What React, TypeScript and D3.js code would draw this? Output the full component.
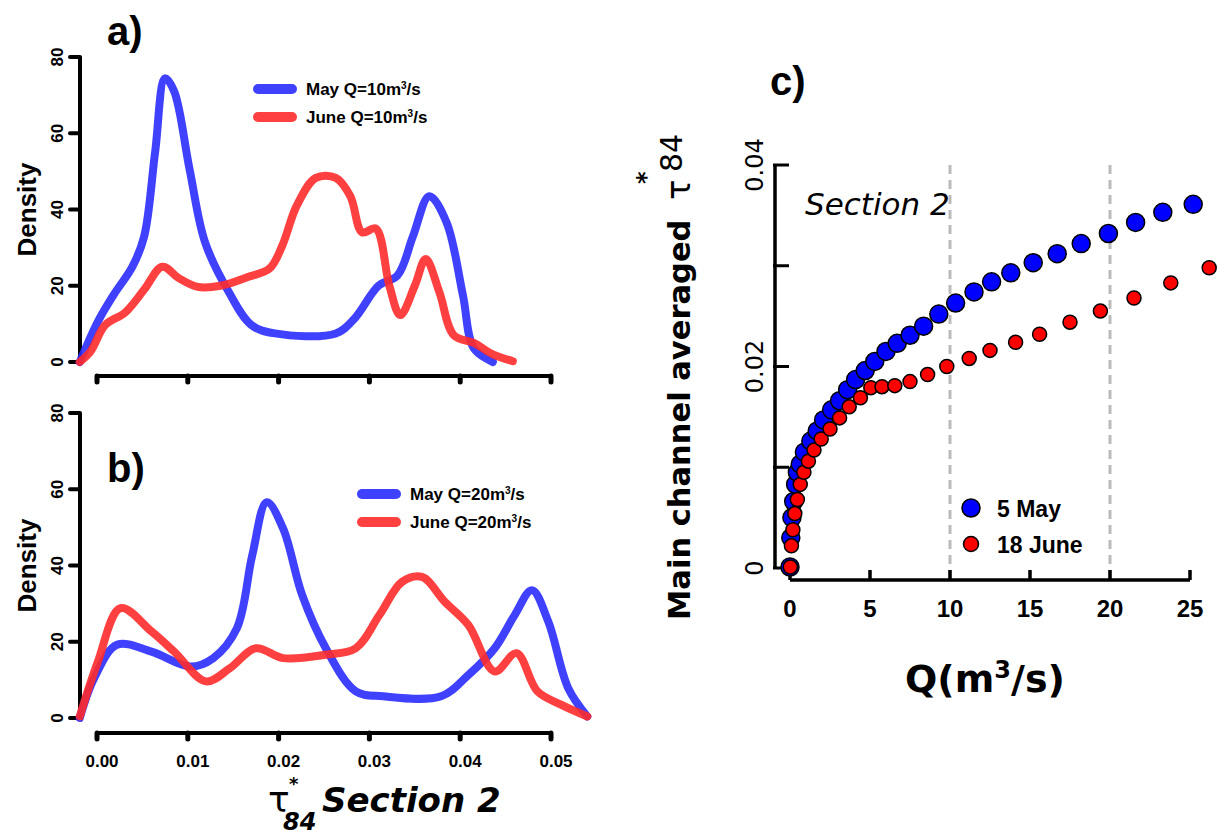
import React from 'react';
import * as d3 from 'd3';

// panel a, Q=10 m3/s: [tau84, density]
const mayA: [number, number][] = [
  [-0.0019, 0], [0.0001, 10.6], [0.0018, 17.5], [0.0039, 25], [0.0052, 33], [0.0064, 55], [0.0075, 74.4],
  [0.0085, 71], [0.0102, 50.5], [0.0119, 31.4], [0.0145, 18.4], [0.017, 9.7], [0.0196, 7.5], [0.0263, 7.5],
  [0.0284, 11.5], [0.031, 20], [0.0331, 22.7], [0.0348, 33], [0.0366, 43.5], [0.0385, 36.6], [0.0403, 17.5],
  [0.0415, 3.6], [0.0436, 0],
];
const juneA: [number, number][] = [
  [-0.0019, 0], [-0.0007, 2.8], [0.0009, 9.7], [0.0031, 13], [0.0052, 19], [0.0072, 25], [0.009, 22],
  [0.0111, 19.7], [0.0136, 20], [0.0166, 22.3], [0.019, 24.5], [0.0204, 30.5], [0.022, 41], [0.0241, 48.3],
  [0.0263, 48.3], [0.0279, 43.5], [0.0292, 34], [0.0307, 35], [0.0322, 20], [0.0334, 12.3], [0.035, 20],
  [0.0362, 27], [0.0377, 18.4], [0.0393, 7], [0.0415, 5], [0.0436, 2], [0.0458, 0.2],
];
// panel b, Q=20 m3/s
const mayB: [number, number][] = [
  [-0.0019, 0], [-0.0003, 10.5], [0.0022, 19.2], [0.006, 17.4], [0.0103, 13.5], [0.0128, 15.7], [0.0154, 23.5],
  [0.0171, 42.7], [0.0187, 56.6], [0.0205, 49.7], [0.0226, 32.2], [0.0252, 18.3], [0.0285, 7], [0.0315, 5.7],
  [0.0379, 5.7], [0.0409, 11.3], [0.0438, 18.3], [0.046, 27], [0.0479, 33.5], [0.0497, 25.3], [0.0519, 7.8],
  [0.054, 0.4],
];
const juneB: [number, number][] = [
  [-0.0019, 0.4], [0.0001, 14.8], [0.0026, 28.8], [0.006, 22.7], [0.0085, 17.4], [0.012, 9.6], [0.0146, 13],
  [0.0175, 18.3], [0.0205, 15.7], [0.0252, 16.6], [0.0285, 18.3], [0.0311, 27], [0.0336, 35.7], [0.0358, 37],
  [0.0383, 30.5], [0.0409, 24.4], [0.0438, 12.2], [0.0462, 17], [0.0485, 7], [0.0511, 3.5], [0.054, 0.4],
];
// panel c: [Q, tau84]
const may5: [number, number][] = [
  [0, 0.0001], [0.05, 0.003], [0.12, 0.005], [0.23, 0.0066], [0.35, 0.0083], [0.46, 0.0095], [0.64, 0.0103],
  [0.9, 0.0115], [1.3, 0.0126], [1.7, 0.0136], [2.1, 0.0147], [2.6, 0.0157], [3.1, 0.0166], [3.6, 0.0177],
  [4.1, 0.0187], [4.7, 0.0196], [5.3, 0.0205], [6.0, 0.0215], [6.7, 0.0223], [7.5, 0.0231], [8.35, 0.024],
  [9.3, 0.0252], [10.35, 0.0263], [11.5, 0.0274], [12.6, 0.0284], [13.8, 0.0293], [15.2, 0.0303],
  [16.7, 0.0312], [18.2, 0.0322], [19.9, 0.0332], [21.6, 0.0343], [23.3, 0.0353], [25.2, 0.0361],
];
const june18: [number, number][] = [
  [0.02, 0.0001], [0.09, 0.0022], [0.18, 0.0038], [0.3, 0.0054], [0.46, 0.0068], [0.64, 0.0083], [0.87, 0.0095],
  [1.15, 0.0106], [1.5, 0.0117], [1.95, 0.0128], [2.5, 0.0138], [3.1, 0.0149], [3.7, 0.016], [4.4, 0.0169],
  [5.05, 0.0179], [5.75, 0.018], [6.55, 0.0181], [7.5, 0.0185], [8.6, 0.0192], [9.8, 0.02], [11.2, 0.0208],
  [12.5, 0.0216], [14.1, 0.0224], [15.6, 0.0232], [17.5, 0.0244], [19.4, 0.0255], [21.5, 0.0268],
  [23.8, 0.0283], [26.2, 0.0298],
];
const tauTicks = [0, 0.01, 0.02, 0.03, 0.04, 0.05];
const densityTicks = [0, 20, 40, 60, 80];
const qTicks = [0, 5, 10, 15, 20, 25];
const cTicks = [0, 0.01, 0.02, 0.03, 0.04];
const cLabels = ['0', '', '0.02', '', '0.04'];

const BLUE = '#2b2bff';
const RED = '#ff2b2b';
const SANS = 'Liberation Sans, Arial, sans-serif';
const DJ = 'DejaVu Sans, sans-serif';

const x = d3.scaleLinear().domain([0, 0.05]).range([97, 551]);

function Density({ y0, axisY, may, june, label, q }: {
  y0: number; axisY: number; may: [number, number][]; june: [number, number][]; label: string; q: number;
}) {
  const y = d3.scaleLinear().domain([0, 80]).range([y0, y0 - 305]);
  const line = d3.line<[number, number]>().x((d) => x(d[0])).y((d) => y(d[1])).curve(d3.curveCatmullRom.alpha(0.5));
  const ax = 80;
  const legX = label === 'a)' ? 258 : 362;
  const legY = label === 'a)' ? y0 - 273 : y0 - 224;
  return (
    <g>
      <text x={107} y={label === 'a)' ? 45 : y0 - 236} fontFamily={SANS} fontWeight="bold" fontSize={40}>{label}</text>
      <line x1={ax} x2={ax} y1={y(0)} y2={y(80)} stroke="#000" strokeWidth={4} />
      {densityTicks.map((t) => (
        <g key={t}>
          <line x1={ax - 10} x2={ax} y1={y(t)} y2={y(t)} stroke="#000" strokeWidth={4} strokeLinecap="round" />
          <text transform={`translate(${ax - 17},${y(t)}) rotate(-90)`} textAnchor="middle" fontFamily={SANS}
            fontWeight="bold" fontSize={17}>{t}</text>
        </g>
      ))}
      <text transform={`translate(36,${y(40)}) rotate(-90)`} textAnchor="middle" fontFamily={SANS} fontWeight="bold"
        fontSize={26}>Density</text>
      <line x1={x(0)} x2={x(0.05)} y1={axisY} y2={axisY} stroke="#000" strokeWidth={4} />
      {tauTicks.map((t) => (
        <g key={t}>
          <line x1={x(t)} x2={x(t)} y1={axisY} y2={axisY + 6} stroke="#000" strokeWidth={5} strokeLinecap="round" />
          {label === 'b)' && (
            <text x={x(t) + 5} y={axisY + 34} textAnchor="middle" fontFamily={SANS} fontWeight="bold" fontSize={17}>
              {t.toFixed(2)}
            </text>
          )}
        </g>
      ))}
      <path d={line(may) ?? ''} fill="none" stroke={BLUE} strokeOpacity={0.9} strokeWidth={8} strokeLinecap="round" />
      <path d={line(june) ?? ''} fill="none" stroke={RED} strokeOpacity={0.9} strokeWidth={8} strokeLinecap="round" />
      {[['May', BLUE], ['June', RED]].map(([m, c], i) => (
        <g key={m}>
          <line x1={legX} x2={legX + 34} y1={legY + i * 28} y2={legY + i * 28} stroke={c} strokeWidth={10}
            strokeLinecap="round" strokeOpacity={0.9} />
          <text x={legX + 48} y={legY + i * 28 + 6} fontFamily={SANS} fontWeight="bold" fontSize={17}>
            {m} Q={q}m<tspan dy={-6} fontSize={10}>3</tspan><tspan dy={6}>/s</tspan>
          </text>
        </g>
      ))}
    </g>
  );
}

export default function App() {
  const qx = d3.scaleLinear().domain([0, 25]).range([790, 1190]);
  const ty = d3.scaleLinear().domain([0, 0.04]).range([568, 165]);
  const axX = 775;
  const axY = 580;
  return (
    <svg width={1219} height={839} style={{ position: 'absolute', left: 0, top: 0, background: '#fff' }}>
      <Density y0={362} axisY={376} may={mayA} june={juneA} label="a)" q={10} />
      <Density y0={718} axisY={733} may={mayB} june={juneB} label="b)" q={20} />
      <text x={268} y={812} fontFamily={DJ} fontSize={36}>τ</text>
      <text x={289} y={790} fontFamily={DJ} fontWeight="bold" fontSize={18}>*</text>
      <text x={283} y={830} fontFamily={DJ} fontWeight="bold" fontStyle="italic" fontSize={24}>84</text>
      <text x={322} y={812} fontFamily={DJ} fontWeight="bold" fontStyle="italic" fontSize={34}>Section 2</text>

      {/* panel c */}
      <text x={770} y={95} fontFamily={SANS} fontWeight="bold" fontSize={40}>c)</text>
      {[10, 20].map((v) => (
        <line key={v} x1={qx(v)} x2={qx(v)} y1={ty(0.04)} y2={axY} stroke="#bbb" strokeWidth={3} strokeDasharray="9,6" />
      ))}
      <line x1={axX} x2={axX} y1={ty(0)} y2={ty(0.04)} stroke="#000" strokeWidth={3.5} />
      {cTicks.map((t, i) => (
        <g key={t}>
          <line x1={axX - 2} x2={axX + 14} y1={ty(t)} y2={ty(t)} stroke="#000" strokeWidth={3} />
          <text transform={`translate(${axX - 12},${ty(t)}) rotate(-90)`} textAnchor="middle" fontFamily={DJ}
            fontSize={24}>{cLabels[i]}</text>
        </g>
      ))}
      <line x1={qx(0)} x2={qx(25)} y1={axY} y2={axY} stroke="#000" strokeWidth={3.5} />
      {qTicks.map((t) => (
        <g key={t}>
          <line x1={qx(t)} x2={qx(t)} y1={axY - 10} y2={axY} stroke="#000" strokeWidth={3.5} />
          <text x={qx(t)} y={axY + 37} textAnchor="middle" fontFamily={SANS} fontWeight="bold" fontSize={24}>{t}</text>
        </g>
      ))}
      <text x={985} y={692} textAnchor="middle" fontFamily={DJ} fontWeight="bold" fontSize={38}>
        Q(m<tspan dy={-14} fontSize={24}>3</tspan><tspan dy={14}>/s)</tspan>
      </text>
      <text transform="translate(690,620) rotate(-90)" fontFamily={DJ} fontWeight="bold" fontSize={30.5}>
        Main channel averaged
      </text>
      <text transform="translate(690,200) rotate(-90)" fontFamily={DJ} fontSize={34}>τ</text>
      <text transform="translate(682,172) rotate(-90)" fontFamily={DJ} fontSize={30}>84</text>
      <text transform="translate(654,184) rotate(-90)" fontFamily={DJ} fontWeight="bold" fontSize={24}>*</text>
      <text x={805} y={215} fontFamily={DJ} fontStyle="italic" fontSize={31}>Section 2</text>
      {may5.map((d, i) => (
        <circle key={`m${i}`} cx={qx(d[0])} cy={ty(d[1])} r={9} fill="#0000ff" stroke="#000" strokeWidth={1.5} />
      ))}
      {june18.map((d, i) => (
        <circle key={`j${i}`} cx={qx(d[0])} cy={ty(d[1])} r={7} fill="#ff0000" stroke="#000" strokeWidth={1.5} />
      ))}
      <circle cx={971} cy={508} r={9} fill="#0000ff" stroke="#000" strokeWidth={1.5} />
      <circle cx={971} cy={544} r={7.5} fill="#ff0000" stroke="#000" strokeWidth={1.5} />
      <text x={997} y={517} fontFamily={SANS} fontWeight="bold" fontSize={23}>5 May</text>
      <text x={997} y={553} fontFamily={SANS} fontWeight="bold" fontSize={23}>18 June</text>
    </svg>
  );
}
